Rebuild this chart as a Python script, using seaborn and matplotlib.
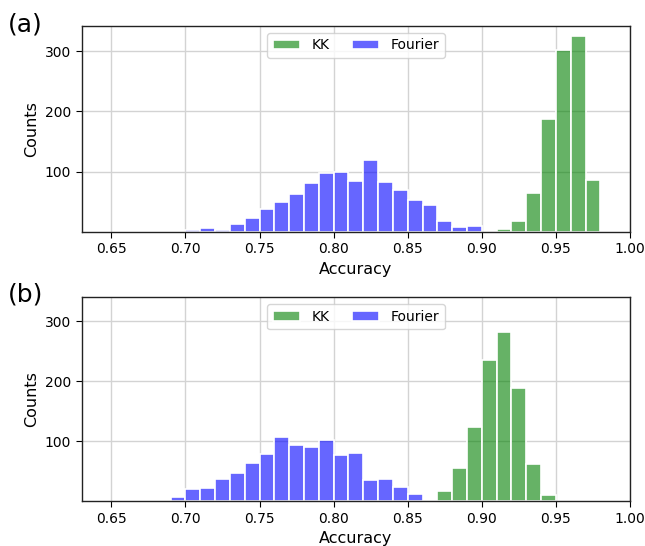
import numpy as np
import pandas as pd
import matplotlib
matplotlib.use("Agg")
import matplotlib.pyplot as plt
import seaborn as sns

# histogram counts per 0.01-wide accuracy bin
a_fourier_start = 0.70
a_fourier_counts = [3, 6, 2, 12, 23, 37, 49, 63, 81, 97, 99, 84, 119, 83, 69, 52, 44, 18, 7, 9]
a_kk_start = 0.91
a_kk_counts = [4, 17, 64, 188, 302, 326, 86]

b_fourier_start = 0.66
b_fourier_counts = [1, 1, 3, 8, 21, 22, 38, 48, 64, 79, 107, 94, 90, 102, 77, 81, 36, 38, 24, 12, 1]
b_kk_start = 0.87
b_kk_counts = [17, 56, 124, 236, 283, 189, 63, 11]

panel_labels = ["(a)", "(b)"]
x_ticks = [0.65, 0.70, 0.75, 0.80, 0.85, 0.90, 0.95, 1.00]
y_ticks = [100, 200, 300]
bin_w = 0.01

sns.set_style("ticks", {"axes.edgecolor": "black", "text.color": "black",
                        "axes.labelcolor": "black", "xtick.color": "black",
                        "ytick.color": "black"})
plt.rcParams["font.family"] = ["DejaVu Sans"]


def draw_hist(ax, start, counts, color, label):
    lefts = start + bin_w * np.arange(len(counts))
    df = pd.DataFrame({"acc": lefts + bin_w / 2, "n": counts})
    sns.histplot(data=df, x="acc", weights="n", binwidth=bin_w,
                 binrange=(start, start + bin_w * len(counts)),
                 color=color, alpha=0.6, edgecolor="white", linewidth=1.2,
                 label=label, ax=ax)


fig = plt.figure(figsize=(6.45, 5.46), dpi=100)
ax_a = fig.add_axes([0.1267, 0.5757, 0.85, 0.3767])
ax_b = fig.add_axes([0.1267, 0.0818, 0.85, 0.3737])

panels = [
    (ax_a, a_kk_start, a_kk_counts, a_fourier_start, a_fourier_counts, 342),
    (ax_b, b_kk_start, b_kk_counts, b_fourier_start, b_fourier_counts, 340),
]

for (ax, ks, kc, fs, fc, ytop), lab in zip(panels, panel_labels):
    ax.set_axisbelow(True)
    ax.grid(True, color="#d3d3d3", linewidth=1.0)
    draw_hist(ax, ks, kc, "green", "KK")
    draw_hist(ax, fs, fc, "blue", "Fourier")
    ax.set_xlim(0.63, 1.0)
    ax.set_ylim(0, ytop)
    ax.set_xticks(x_ticks)
    ax.set_xticklabels([f"{t:.2f}" for t in x_ticks])
    ax.set_yticks(y_ticks)
    ax.tick_params(labelsize=10, direction="out", length=4, color="black",
                   labelcolor="black")
    for sp in ax.spines.values():
        sp.set_visible(True)
        sp.set_color("#222222")
        sp.set_linewidth(1.0)
    ax.set_xlabel("Accuracy", fontsize=11.5, color="black")
    ax.set_ylabel("Counts", fontsize=11.5, color="black")
    ax.legend(loc="upper center", ncol=2, fontsize=10, columnspacing=1.6,
              handletextpad=0.8, framealpha=0.8)

fig.text(0.012, 0.955, panel_labels[0], fontsize=18, va="center")
fig.text(0.012, 0.46, panel_labels[1], fontsize=18, va="center")

fig.savefig("out.png", dpi=100)
